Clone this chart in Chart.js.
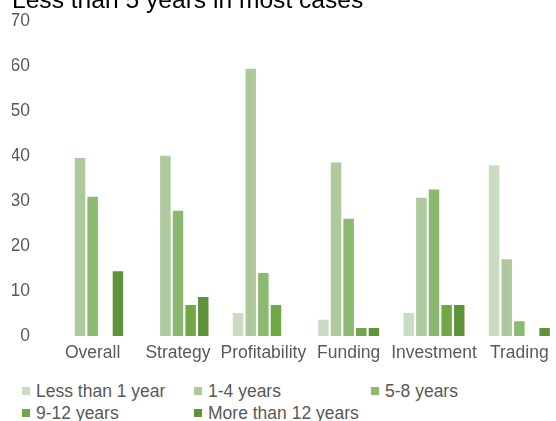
<!DOCTYPE html>
<html>
<head>
<meta charset="utf-8">
<script src="https://cdn.jsdelivr.net/npm/chart.js@4"></script>
<style>
    html, body { margin: 0; padding: 0; background: #fff; overflow: hidden; }
    body { width: 556px; height: 421px; position: relative; font-family: "Liberation Sans", Arial, sans-serif; }
    #wrap { position: absolute; left: 0; top: -14px; width: 566px; height: 385px; }
    #legend { position: absolute; left: 0; top: 380px; width: 556px; height: 44px; }
    .item { position: absolute; font-size: 17.5px; color: #595959; line-height: 22px; white-space: nowrap; }
    .box { position: absolute; top: 7px; width: 8px; height: 8px; }
    .item span.txt { position: absolute; left: 14px; top: 0; }
</style>
</head>
<body>
<div id="wrap"><canvas id="chart"></canvas></div>
<div id="legend"></div>
<script>
// Categories and series (values in %)
const categories = ['Overall', 'Strategy', 'Profitability', 'Funding', 'Investment', 'Trading'];
const seriesNames = ['Less than 1 year', '1-4 years', '5-8 years', '9-12 years', 'More than 12 years'];
const lessThan1 = [0, 0, 5.1, 3.6, 5.1, 38];
const years1to4 = [39.6, 40.1, 59.5, 38.6, 30.8, 17.1];
const years5to8 = [31, 27.9, 14, 26.1, 32.6, 3.3];
const years9to12 = [0, 6.9, 6.9, 1.8, 6.9, 0];
const moreThan12 = [14.4, 8.7, 0, 1.8, 6.9, 1.8];
const colors = ['#c9dcc1', '#aeca9c', '#8ab96f', '#6fa845', '#5f943a'];

const seriesValues = [lessThan1, years1to4, years5to8, years9to12, moreThan12];
const FONT = '"Liberation Sans", Arial, sans-serif';

const ctx = document.getElementById('chart').getContext('2d');
const chart = new Chart(ctx, {
    type: 'bar',
    data: {
        labels: categories,
        datasets: seriesValues.map((vals, i) => ({
            label: seriesNames[i],
            data: vals,
            backgroundColor: colors[i],
            borderWidth: 0,
            barPercentage: 0.83,
            categoryPercentage: 0.74
        }))
    },
    options: {
        responsive: true,
        maintainAspectRatio: false,
        animation: false,
        layout: { padding: { left: 12, right: 4, top: 0, bottom: 0 } },
        plugins: {
            legend: { display: false },
            tooltip: { enabled: false },
            title: {
                display: true,
                text: 'Less than 5 years in most cases',
                align: 'start',
                color: '#000',
                font: { family: FONT, size: 24.6, weight: 'normal' },
                padding: { top: 0, bottom: 6 }
            }
        },
        scales: {
            x: {
                grid: { display: false, drawTicks: false },
                border: { display: false },
                ticks: {
                    color: '#595959',
                    font: { family: FONT, size: 17.5 },
                    padding: 7,
                    maxRotation: 0,
                    autoSkip: false
                }
            },
            y: {
                min: 0,
                max: 70,
                grid: { display: false, drawTicks: false },
                border: { display: false },
                afterFit: function(scale) {
                    scale.width = 38;
                },
                ticks: {
                    stepSize: 10,
                    color: '#595959',
                    font: { family: FONT, size: 17.5 },
                    padding: 20
                }
            }
        }
    }
});

// Legend laid out in columns like the original
const legendPos = [[22, 0], [194, 0], [371, 0], [22, 22], [194, 22]];
const legend = document.getElementById('legend');
seriesNames.forEach((name, i) => {
    const item = document.createElement('div');
    item.className = 'item';
    item.style.left = legendPos[i][0] + 'px';
    item.style.top = legendPos[i][1] + 'px';
    item.innerHTML = `<span class="box" style="background:${colors[i]}"></span><span class="txt">${name}</span>`;
    legend.appendChild(item);
});
</script>
</body>
</html>
